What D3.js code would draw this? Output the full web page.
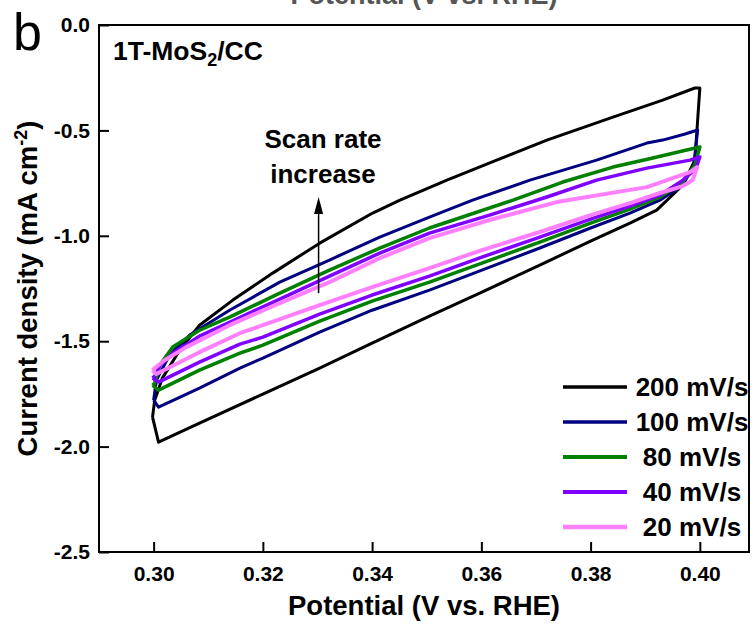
<!DOCTYPE html>
<html>
<head>
<meta charset="utf-8">
<script src="https://cdn.jsdelivr.net/npm/d3@7"></script>
<style>
  body { margin: 0; background: #fff; }
  text { font-family: "Liberation Sans", Arial, sans-serif; }
</style>
</head>
<body>
<div id="row"></div>
<script>

// scan rate labels, legend order
var scanRates = ["200 mV/s", "100 mV/s", "80 mV/s", "40 mV/s", "20 mV/s"];

// CV loops, [potential (V), current density (mA cm-2)]
var cv200 = [
  [0.2998, -1.860], [0.3009, -1.979], [0.3084, -1.889], [0.3200, -1.751], [0.3304, -1.628],
  [0.3400, -1.509], [0.3505, -1.381], [0.3601, -1.267], [0.3707, -1.139], [0.3800, -1.025],
  [0.3872, -0.940], [0.3921, -0.878], [0.3969, -0.759], [0.3991, -0.641], [0.4000, -0.299],
  [0.3991, -0.299], [0.3932, -0.356], [0.3841, -0.437], [0.3720, -0.546], [0.3628, -0.641],
  [0.3537, -0.736], [0.3451, -0.831], [0.3401, -0.892], [0.3304, -1.035], [0.3218, -1.177],
  [0.3145, -1.305], [0.3084, -1.424], [0.3048, -1.542], [0.3016, -1.675], [0.3002, -1.780],
  [0.2998, -1.860]
];
var cv100 = [
  [0.3000, -1.780], [0.3009, -1.813], [0.3084, -1.723], [0.3158, -1.628], [0.3200, -1.580],
  [0.3304, -1.457], [0.3400, -1.353], [0.3505, -1.258], [0.3601, -1.163], [0.3707, -1.058],
  [0.3800, -0.963], [0.3872, -0.892], [0.3927, -0.831], [0.3969, -0.759], [0.3989, -0.664],
  [0.3996, -0.498], [0.3973, -0.517], [0.3932, -0.546], [0.3903, -0.560], [0.3811, -0.641],
  [0.3689, -0.736], [0.3584, -0.831], [0.3505, -0.911], [0.3414, -1.006], [0.3322, -1.115],
  [0.3231, -1.220], [0.3139, -1.353], [0.3066, -1.471], [0.3029, -1.566], [0.3005, -1.685],
  [0.3000, -1.780]
];
var cv80 = [
  [0.2998, -1.709], [0.3009, -1.732], [0.3084, -1.637], [0.3158, -1.557], [0.3200, -1.519],
  [0.3304, -1.405], [0.3400, -1.310], [0.3505, -1.220], [0.3601, -1.130], [0.3707, -1.030],
  [0.3800, -0.940], [0.3872, -0.873], [0.3927, -0.816], [0.3969, -0.745], [0.3991, -0.664],
  [0.4000, -0.579], [0.3976, -0.593], [0.3914, -0.631], [0.3841, -0.674], [0.3749, -0.745],
  [0.3658, -0.831], [0.3505, -0.963], [0.3414, -1.058], [0.3322, -1.163], [0.3231, -1.272],
  [0.3139, -1.386], [0.3084, -1.448], [0.3035, -1.528], [0.3011, -1.614], [0.3002, -1.699],
  [0.2998, -1.709]
];
var cv40 = [
  [0.2998, -1.675], [0.3009, -1.694], [0.3084, -1.599], [0.3158, -1.514], [0.3200, -1.481],
  [0.3304, -1.372], [0.3400, -1.281], [0.3505, -1.191], [0.3601, -1.101], [0.3707, -1.006],
  [0.3800, -0.921], [0.3872, -0.859], [0.3927, -0.807], [0.3969, -0.736], [0.3993, -0.679],
  [0.4000, -0.626], [0.3982, -0.641], [0.3903, -0.679], [0.3811, -0.736], [0.3720, -0.816],
  [0.3615, -0.902], [0.3505, -0.987], [0.3414, -1.082], [0.3322, -1.191], [0.3231, -1.300],
  [0.3139, -1.410], [0.3084, -1.476], [0.3035, -1.557], [0.3011, -1.618], [0.3002, -1.666],
  [0.2998, -1.675]
];
var cv20 = [
  [0.2998, -1.637], [0.3005, -1.656], [0.3084, -1.552], [0.3158, -1.462], [0.3200, -1.424],
  [0.3304, -1.329], [0.3400, -1.243], [0.3505, -1.153], [0.3601, -1.068], [0.3707, -0.982],
  [0.3800, -0.902], [0.3872, -0.845], [0.3927, -0.797], [0.3969, -0.764], [0.3987, -0.736],
  [0.3995, -0.674], [0.3982, -0.698], [0.3903, -0.769], [0.3738, -0.840], [0.3615, -0.925],
  [0.3505, -1.011], [0.3414, -1.106], [0.3322, -1.220], [0.3231, -1.319], [0.3139, -1.424],
  [0.3060, -1.528], [0.3020, -1.590], [0.2998, -1.637]
];

var xTicks = [0.30, 0.32, 0.34, 0.36, 0.38, 0.40];
var yTicks = [-2.5, -2.0, -1.5, -1.0, -0.5, 0.0];

var loops = [cv200, cv100, cv80, cv40, cv20];
var colors = ["#000000", "#000080", "#008000", "#8000ff", "#ff80ff"];
var widths = [3, 3, 3.5, 3.5, 4];

var svgWidth = 755;
var svgHeight = 632;

var margin = {
  top: 25,
  bottom: 80,
  right: 6,
  left: 99
};

var width = svgWidth - margin.left - margin.right;
var height = svgHeight - margin.top - margin.bottom;

var svg = d3.select("#row")
  .append("svg")
  .attr("width", svgWidth)
  .attr("height", svgHeight);

// cut-off axis title of the panel above
svg.append("text")
  .attr("x", margin.left + width / 2)
  .attr("y", 4)
  .attr("text-anchor", "middle")
  .attr("font-size", 27)
  .attr("font-weight", "bold")
  .attr("fill", "#555")
  .text("Potential (V vs. RHE)");

var chartGroup = svg.append("g")
  .attr("transform", `translate(${margin.left}, ${margin.top})`);

var xScale = d3.scaleLinear().domain([0.29, 0.409]).range([0, width]);
var yScale = d3.scaleLinear().domain([-2.5, 0]).range([height, 0]);

var bottomAxis = d3.axisBottom(xScale)
  .tickValues(xTicks)
  .tickFormat(d => d.toFixed(2))
  .tickSizeInner(-10)
  .tickSizeOuter(0)
  .tickPadding(14);

var leftAxis = d3.axisLeft(yScale)
  .tickValues(yTicks)
  .tickFormat(d => d.toFixed(1))
  .tickSizeInner(-10)
  .tickSizeOuter(0)
  .tickPadding(9);

var xAxis = chartGroup.append("g")
  .attr("transform", `translate(0, ${height})`)
  .call(bottomAxis);

var yAxis = chartGroup.append("g")
  .call(leftAxis);

[xAxis, yAxis].forEach(function(ax) {
  ax.select(".domain").remove();
  ax.selectAll("line").attr("stroke", "#000").attr("stroke-width", 2);
  ax.selectAll("text")
    .attr("fill", "#000")
    .attr("font-size", 21)
    .attr("font-weight", "bold")
    .style("font-family", "'Liberation Sans', Arial, sans-serif");
});

// curves
var line = d3.line()
  .x(d => xScale(d[0]))
  .y(d => yScale(d[1]));

for (var i = 0; i < loops.length; i++) {
  chartGroup.append("path")
    .datum(loops[i])
    .attr("fill", "none")
    .attr("stroke", colors[i])
    .attr("stroke-width", widths[i])
    .attr("stroke-linejoin", "round")
    .attr("d", line);
}

// frame
chartGroup.append("rect")
  .attr("x", 0)
  .attr("y", 0)
  .attr("width", width)
  .attr("height", height)
  .attr("fill", "none")
  .attr("stroke", "#000")
  .attr("stroke-width", 2);

// sample name
var sample = chartGroup.append("text")
  .attr("x", 14)
  .attr("y", 35)
  .attr("font-size", 26.5)
  .attr("font-weight", "bold");
sample.append("tspan").text("1T-MoS");
sample.append("tspan").attr("font-size", 18).attr("dy", 6).text("2");
sample.append("tspan").attr("dy", -6).text("/CC");

// annotation arrow
var arrowX = xScale(0.3302);
var arrowBottom = yScale(-1.272);
var arrowTop = yScale(-0.816);
chartGroup.append("line")
  .attr("x1", arrowX).attr("x2", arrowX)
  .attr("y1", arrowBottom).attr("y2", arrowTop + 14)
  .attr("stroke", "#000")
  .attr("stroke-width", 1.5);
chartGroup.append("path")
  .attr("d", `M${arrowX},${arrowTop} L${arrowX - 4.5},${arrowTop + 17} L${arrowX + 4.5},${arrowTop + 17} Z`)
  .attr("fill", "#000");

chartGroup.append("text")
  .attr("x", 224)
  .attr("y", 123)
  .attr("text-anchor", "middle")
  .attr("font-size", 26)
  .attr("font-weight", "bold")
  .text("Scan rate");
chartGroup.append("text")
  .attr("x", 224)
  .attr("y", 158)
  .attr("text-anchor", "middle")
  .attr("font-size", 26)
  .attr("font-weight", "bold")
  .text("increase");

// legend
var legend = chartGroup.append("g")
  .attr("transform", "translate(464, 362)");

scanRates.forEach(function(label, i) {
  var row = legend.append("g").attr("transform", `translate(0, ${i * 35})`);
  row.append("line")
    .attr("x1", 0).attr("x2", 64)
    .attr("y1", 0).attr("y2", 0)
    .attr("stroke", colors[i])
    .attr("stroke-width", widths[i] + 0.5);
  row.append("text")
    .attr("x", 129)
    .attr("y", 9)
    .attr("text-anchor", "middle")
    .attr("font-size", 26)
    .attr("font-weight", "bold")
    .text(label);
});

// axis titles
chartGroup.append("text")
  .attr("x", width / 2)
  .attr("y", height + 63)
  .attr("text-anchor", "middle")
  .attr("font-size", 27.5)
  .attr("font-weight", "bold")
  .text("Potential (V vs. RHE)");

var yTitle = svg.append("text")
  .attr("transform", `translate(37, ${margin.top + height / 2}) rotate(-90)`)
  .attr("text-anchor", "middle")
  .attr("font-size", 27.5)
  .attr("font-weight", "bold");
yTitle.append("tspan").text("Current density (mA cm");
yTitle.append("tspan").attr("font-size", 18).attr("dy", -10).text("-2");
yTitle.append("tspan").attr("dy", 10).text(")");

// panel letter
svg.append("text")
  .attr("x", 13)
  .attr("y", 50)
  .attr("font-size", 52)
  .text("b");

</script>
</body>
</html>
